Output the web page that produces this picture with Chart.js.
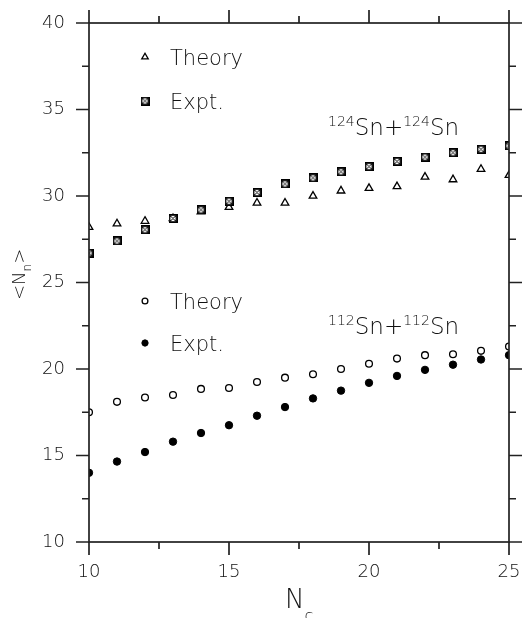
<!DOCTYPE html>
<html>
<head>
<meta charset="utf-8">
<script src="https://cdn.jsdelivr.net/npm/chart.js@4.4.0/dist/chart.umd.min.js"></script>
<style>
  html, body { margin: 0; padding: 0; background: #fff; }
</style>
</head>
<body>
<canvas id="grafico" width="524" height="618"></canvas>
<script>
// N_c values shared by all four series
const nc = [10, 11, 12, 13, 14, 15, 16, 17, 18, 19, 20, 21, 22, 23, 24, 25];

// 124Sn + 124Sn
const teoria124 = [28.2, 28.4, 28.55, 28.7, 29.1, 29.35, 29.6, 29.6, 30.0, 30.3, 30.45, 30.55, 31.1, 30.95, 31.55, 31.2];
const expt124 = [26.7, 27.4, 28.05, 28.7, 29.2, 29.7, 30.2, 30.7, 31.05, 31.4, 31.7, 32.0, 32.25, 32.5, 32.7, 32.9];

// 112Sn + 112Sn
const teoria112 = [17.5, 18.1, 18.35, 18.5, 18.85, 18.9, 19.25, 19.5, 19.7, 20.0, 20.3, 20.6, 20.8, 20.85, 21.05, 21.3];
const expt112 = [14.0, 14.65, 15.2, 15.8, 16.3, 16.75, 17.3, 17.8, 18.3, 18.75, 19.2, 19.6, 19.95, 20.25, 20.55, 20.8];

const ticksX = [10, 15, 20, 25];
const ticksY = [10, 15, 20, 25, 30, 35, 40];

const FONTE = "'DejaVu Sans', sans-serif";
const PESO = "200";
const TINTA = "#111";

Chart.defaults.font.family = FONTE;
Chart.defaults.font.weight = PESO;
Chart.defaults.color = TINTA;

// square with an X inside, used for the 124Sn experiment
function caixaCruzada() {
    const c = document.createElement("canvas");
    c.width = 9;
    c.height = 9;
    const g = c.getContext("2d");
    g.fillStyle = "#fff";
    g.fillRect(0, 0, 9, 9);
    g.strokeStyle = "#000";
    g.lineWidth = 1.8;
    g.strokeRect(0.9, 0.9, 7.2, 7.2);
    g.lineWidth = 1;
    g.beginPath();
    g.moveTo(2, 2); g.lineTo(7, 7);
    g.moveTo(7, 2); g.lineTo(2, 7);
    g.stroke();
    return c;
}
const caixa = caixaCruzada();

function pontos(valores) {
    return nc.map((n, i) => ({ x: n, y: valores[i] }));
}

const estilos = {
    triangulo: { pointStyle: "triangle", pointRadius: 4.4, borderWidth: 1.3, borderColor: "#000", backgroundColor: "#fff" },
    caixa: { pointStyle: caixa, pointRadius: 4.5, borderWidth: 0, borderColor: "#000", backgroundColor: "#fff" },
    aberto: { pointStyle: "circle", pointRadius: 3.4, borderWidth: 1.3, borderColor: "#000", backgroundColor: "#fff" },
    cheio: { pointStyle: "circle", pointRadius: 3.7, borderWidth: 1, borderColor: "#000", backgroundColor: "#000" }
};

// frame with outward ticks on all four sides (major every 5, minor every 2.5)
const moldura = {
    id: "moldura",
    afterDraw(chart) {
        const { ctx, chartArea: a, scales } = chart;
        const { x, y } = scales;
        ctx.save();
        ctx.strokeStyle = "#222";
        ctx.lineWidth = 1.7;
        ctx.strokeRect(a.left, a.top, a.right - a.left, a.bottom - a.top);
        ctx.beginPath();
        for (let v = x.min; v <= x.max + 1e-6; v += 2.5) {
            const px = x.getPixelForValue(v);
            const len = v % 5 === 0 ? 13 : 7;
            ctx.moveTo(px, a.bottom); ctx.lineTo(px, a.bottom + len);
            ctx.moveTo(px, a.top); ctx.lineTo(px, a.top - len);
        }
        for (let v = y.min; v <= y.max + 1e-6; v += 2.5) {
            const py = y.getPixelForValue(v);
            const len = v % 5 === 0 ? 13 : 7;
            ctx.moveTo(a.left, py); ctx.lineTo(a.left - len, py);
            ctx.moveTo(a.right, py); ctx.lineTo(a.right + len, py);
        }
        ctx.stroke();
        ctx.restore();
    }
};

// writes text pieces one after another; sub/superscripts shift the baseline
function escrever(ctx, x, y, partes) {
    let cx = x;
    for (const p of partes) {
        ctx.font = PESO + " " + p.tam + "px " + FONTE;
        ctx.fillText(p.t, cx, y + (p.dy || 0));
        cx += ctx.measureText(p.t).width + (p.sp || 0);
    }
}

// legends, reaction labels and axis titles
const textos = {
    id: "textos",
    afterDraw(chart) {
        const { ctx, chartArea: a } = chart;
        ctx.save();
        ctx.fillStyle = TINTA;
        ctx.textBaseline = "alphabetic";
        ctx.textAlign = "left";

        const chave = [
            { estilo: estilos.triangulo, texto: "Theory", y: 57 },
            { estilo: estilos.caixa, texto: "Expt.", y: 101 },
            { estilo: estilos.aberto, texto: "Theory", y: 301 },
            { estilo: estilos.cheio, texto: "Expt.", y: 343 }
        ];
        for (const item of chave) {
            const e = item.estilo;
            ctx.strokeStyle = e.borderColor;
            ctx.fillStyle = e.backgroundColor;
            ctx.lineWidth = e.borderWidth;
            Chart.helpers.drawPoint(ctx, { pointStyle: e.pointStyle, radius: e.pointRadius * 0.85, borderWidth: e.borderWidth, rotation: 0 }, a.left + 56, item.y);
            ctx.fillStyle = TINTA;
            ctx.font = PESO + " 21px " + FONTE;
            ctx.fillText(item.texto, a.left + 81, item.y + 8);
        }

        escrever(ctx, a.left + 239, 135, [
            { t: "124", tam: 14, dy: -9 }, { t: "Sn", tam: 23 }, { t: "+", tam: 23 },
            { t: "124", tam: 14, dy: -9 }, { t: "Sn", tam: 23 }
        ]);
        escrever(ctx, a.left + 239, 334, [
            { t: "112", tam: 14, dy: -9 }, { t: "Sn", tam: 23 }, { t: "+", tam: 23 },
            { t: "112", tam: 14, dy: -9 }, { t: "Sn", tam: 23 }
        ]);

        // y title <N_n>, rotated
        ctx.save();
        ctx.translate(25, 300);
        ctx.rotate(-Math.PI / 2);
        escrever(ctx, 0, 0, [
            { t: "<", tam: 18 }, { t: "N", tam: 18 }, { t: "n", tam: 12, dy: 6 }, { t: ">", tam: 18 }
        ]);
        ctx.restore();

        // x title N_c
        escrever(ctx, 285, 608, [{ t: "N", tam: 26 }, { t: "c", tam: 16, dy: 13 }]);
        ctx.restore();
    }
};

new Chart(document.getElementById("grafico"), {
    type: "scatter",
    data: {
        datasets: [
            Object.assign({ label: "Expt. 124Sn+124Sn", data: pontos(expt124) }, estilos.caixa),
            Object.assign({ label: "Theory 124Sn+124Sn", data: pontos(teoria124) }, estilos.triangulo),
            Object.assign({ label: "Expt. 112Sn+112Sn", data: pontos(expt112) }, estilos.cheio),
            Object.assign({ label: "Theory 112Sn+112Sn", data: pontos(teoria112) }, estilos.aberto)
        ]
    },
    options: {
        responsive: false,
        animation: false,
        layout: { padding: { top: 23, right: 15, left: 0, bottom: 0 } },
        plugins: {
            legend: { display: false },
            tooltip: { enabled: false }
        },
        scales: {
            x: {
                type: "linear",
                min: 10,
                max: 25,
                afterBuildTicks: (s) => { s.ticks = ticksX.map(v => ({ value: v })); },
                afterFit: (s) => { s.height = 76; s.paddingLeft = 0; s.paddingRight = 0; },
                grid: { display: false, drawTicks: false },
                border: { display: false },
                ticks: { padding: 20, font: { size: 18 }, maxRotation: 0 }
            },
            y: {
                type: "linear",
                min: 10,
                max: 40,
                afterBuildTicks: (s) => { s.ticks = ticksY.map(v => ({ value: v })); },
                afterFit: (s) => { s.width = 89; s.paddingTop = 0; s.paddingBottom = 0; },
                grid: { display: false, drawTicks: false },
                border: { display: false },
                ticks: { padding: 24, font: { size: 18 } }
            }
        }
    },
    plugins: [moldura, textos]
});
</script>
</body>
</html>
